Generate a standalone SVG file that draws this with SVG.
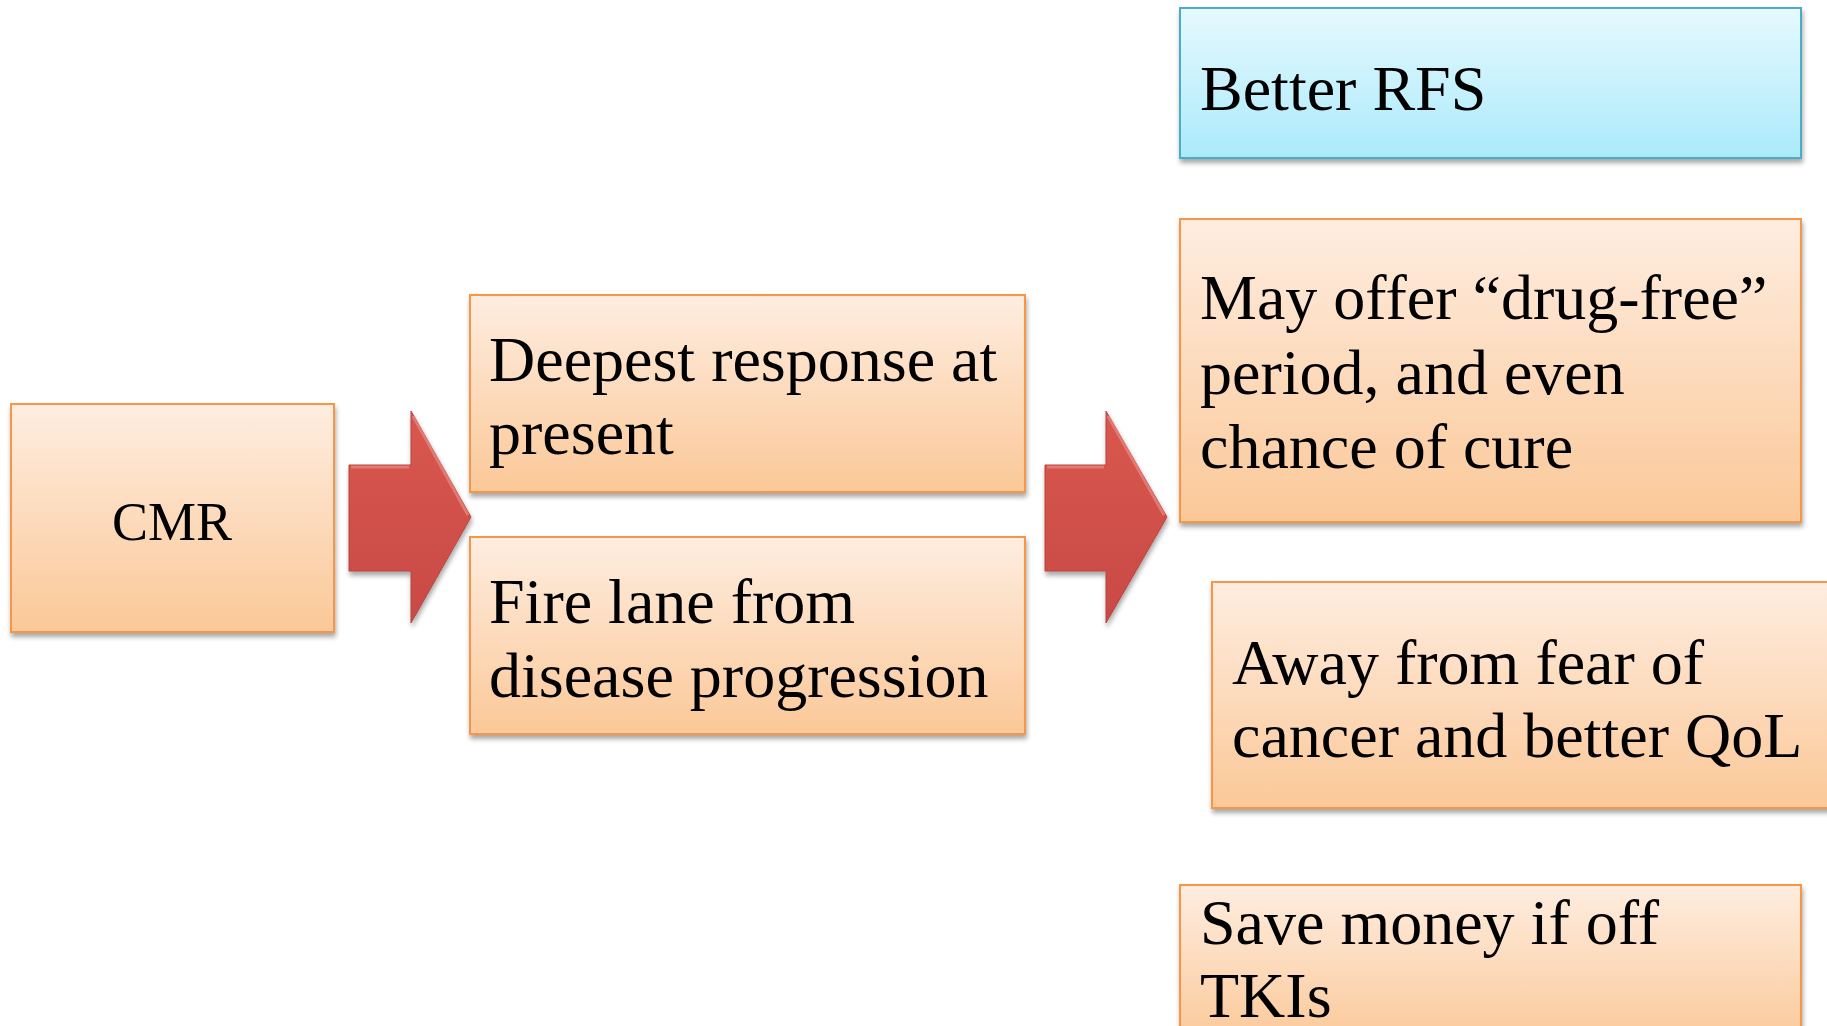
<svg xmlns="http://www.w3.org/2000/svg" width="1827" height="1026" viewBox="0 0 1827 1026">
<defs>
<linearGradient id="gOrange" x1="0" y1="0" x2="0" y2="1">
<stop offset="0" stop-color="#FEEDE0"/>
<stop offset="1" stop-color="#FBC898"/>
</linearGradient>
<linearGradient id="gBlue" x1="0" y1="0" x2="0" y2="1">
<stop offset="0" stop-color="#E6F9FE"/>
<stop offset="1" stop-color="#ABEAFB"/>
</linearGradient>
<linearGradient id="gRed" x1="0" y1="0" x2="0" y2="1">
<stop offset="0" stop-color="#D9574F"/>
<stop offset="1" stop-color="#C84A45"/>
</linearGradient>
<filter id="shadow" x="-5%" y="-5%" width="110%" height="115%">
<feGaussianBlur in="SourceAlpha" stdDeviation="2.5"/>
<feOffset dx="1" dy="4" result="b"/>
<feComponentTransfer><feFuncA type="linear" slope="0.35"/></feComponentTransfer>
<feMerge><feMergeNode/><feMergeNode in="SourceGraphic"/></feMerge>
</filter>
</defs>
<style>
.box{fill:url(#gOrange);stroke:#F79646;stroke-width:2;filter:url(#shadow)}
.bbox{fill:url(#gBlue);stroke:#4BACC6;stroke-width:2;filter:url(#shadow)}
.t{font-family:"Liberation Serif","Times New Roman",serif;font-size:64px;fill:#000}
.arrow{fill:url(#gRed);stroke:#B8443F;stroke-width:1;filter:url(#shadow)}
.hl{fill:none;stroke:#E98A84;stroke-width:3;opacity:0.7}
</style>
<rect width="1827" height="1026" fill="#FFFFFF"/>
<g id="connectors">
<g id="arrow1">
<path class="arrow" d="M349,465 L411,465 L411,411 L471,517 L411,623 L411,571 L349,571 Z"/>
<path class="hl" d="M351,467 L409,467 M413,416 L468,515"/>
</g>
<g id="arrow2">
<path class="arrow" d="M1045,465 L1106,465 L1106,411 L1167,517 L1106,623 L1106,571 L1045,571 Z"/>
<path class="hl" d="M1047,467 L1104,467 M1108,416 L1164,515"/>
</g>
</g>
<g id="node-cmr">
<rect class="box" x="11" y="404" width="323" height="228"/>
<text class="t" x="172" y="540" text-anchor="middle" style="font-size:54px">CMR</text>
</g>
<g id="node-deepest">
<rect class="box" x="470" y="295" width="555" height="197"/>
<text class="t" x="489" y="381">Deepest response at</text>
<text class="t" x="489" y="454">present</text>
</g>
<g id="node-firelane">
<rect class="box" x="470" y="537" width="555" height="197"/>
<text class="t" x="489" y="623">Fire lane from</text>
<text class="t" x="489" y="697">disease progression</text>
</g>
<g id="node-rfs">
<rect class="bbox" x="1180" y="8" width="621" height="150"/>
<text class="t" x="1200" y="110">Better RFS</text>
</g>
<g id="node-drugfree">
<rect class="box" x="1180" y="219" width="621" height="303"/>
<text class="t" x="1200" y="319">May offer “drug-free”</text>
<text class="t" x="1200" y="394">period, and even</text>
<text class="t" x="1200" y="468">chance of cure</text>
</g>
<g id="node-qol">
<rect class="box" x="1212" y="582" width="640" height="226"/>
<text class="t" x="1232" y="684">Away from fear of</text>
<text class="t" x="1232" y="757">cancer and better QoL</text>
</g>
<g id="node-money">
<rect class="box" x="1180" y="885" width="621" height="160"/>
<text class="t" x="1200" y="944">Save money if off</text>
<text class="t" x="1200" y="1017">TKIs</text>
</g>
</svg>
